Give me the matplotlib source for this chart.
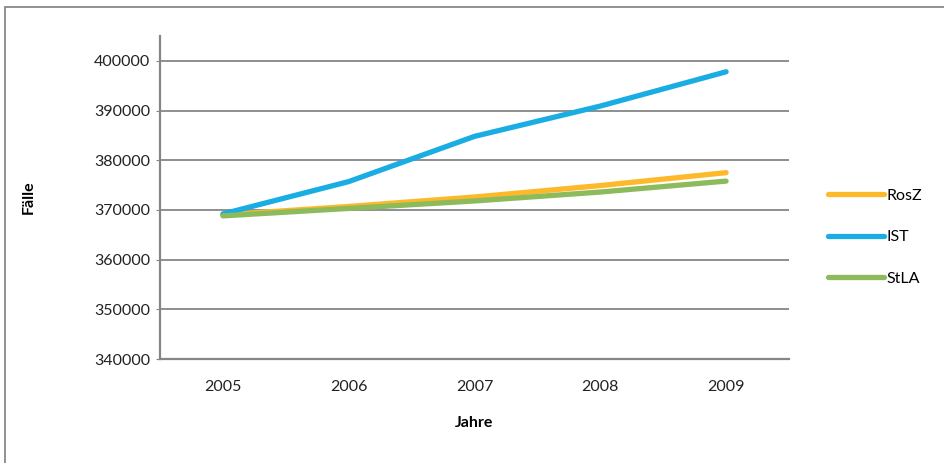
import matplotlib
matplotlib.use("Agg")
import matplotlib.pyplot as plt
from matplotlib.patches import Rectangle

years = ["2005", "2006", "2007", "2008", "2009"]
rosz = [369000, 370700, 372600, 374900, 377500]
ist = [369200, 375700, 384800, 390900, 397800]
stla = [368800, 370300, 371800, 373600, 375800]
yticks = [340000, 350000, 360000, 370000, 380000, 390000, 400000]

plt.rcParams['font.family'] = ['Lato', 'DejaVu Sans']

W, H = 945, 463
fig = plt.figure(figsize=(W/100, H/100), dpi=100)
fig.patches.append(Rectangle((5/W, -0.1), 1.2, 1.1 - 7/H, transform=fig.transFigure,
                             fill=False, edgecolor='#7f7f7f', linewidth=1.2))

ax = fig.add_axes([160/W, 1 - 359/H, (789-160)/W, (359-36)/H])
x = range(len(years))
ax.plot(x, rosz, color='#FDB92A', lw=3.8, solid_capstyle='round', label='RosZ', zorder=3)
ax.plot(x, ist, color='#1AADE3', lw=3.8, solid_capstyle='round', label='IST', zorder=3)
ax.plot(x, stla, color='#8DBB5C', lw=3.8, solid_capstyle='round', label='StLA', zorder=4)

ax.set_xlim(-0.5, 4.5)
ax.set_ylim(340000, 405000)
ax.set_yticks(yticks)
ax.set_yticklabels([str(v) for v in yticks])
ax.set_xticks(list(x))
ax.set_xticklabels(years)
ax.grid(axis='y', color='#868686', lw=1.3)
ax.set_axisbelow(True)
for s in ['top', 'right']:
    ax.spines[s].set_visible(False)
for s in ['left', 'bottom']:
    ax.spines[s].set_color('#868686')
    ax.spines[s].set_linewidth(1.6)
ax.tick_params(axis='y', length=3, color='#868686', labelsize=11.5, pad=4, labelcolor='#222222')
ax.tick_params(axis='x', length=0, labelsize=11.5, pad=15, labelcolor='#222222')
ax.set_xlabel('Jahre', fontsize=11.5, fontweight='bold', labelpad=16)
ax.set_ylabel('Fälle', fontsize=11.5, fontweight='bold', labelpad=42)

leg = fig.legend(loc='upper left', bbox_to_anchor=(822/W, 1 - 182/H), frameon=False,
                 fontsize=11.5, handlelength=3.5, handletextpad=0.15, labelspacing=1.72,
                 borderaxespad=0)
fig.savefig('out.png', dpi=100)
